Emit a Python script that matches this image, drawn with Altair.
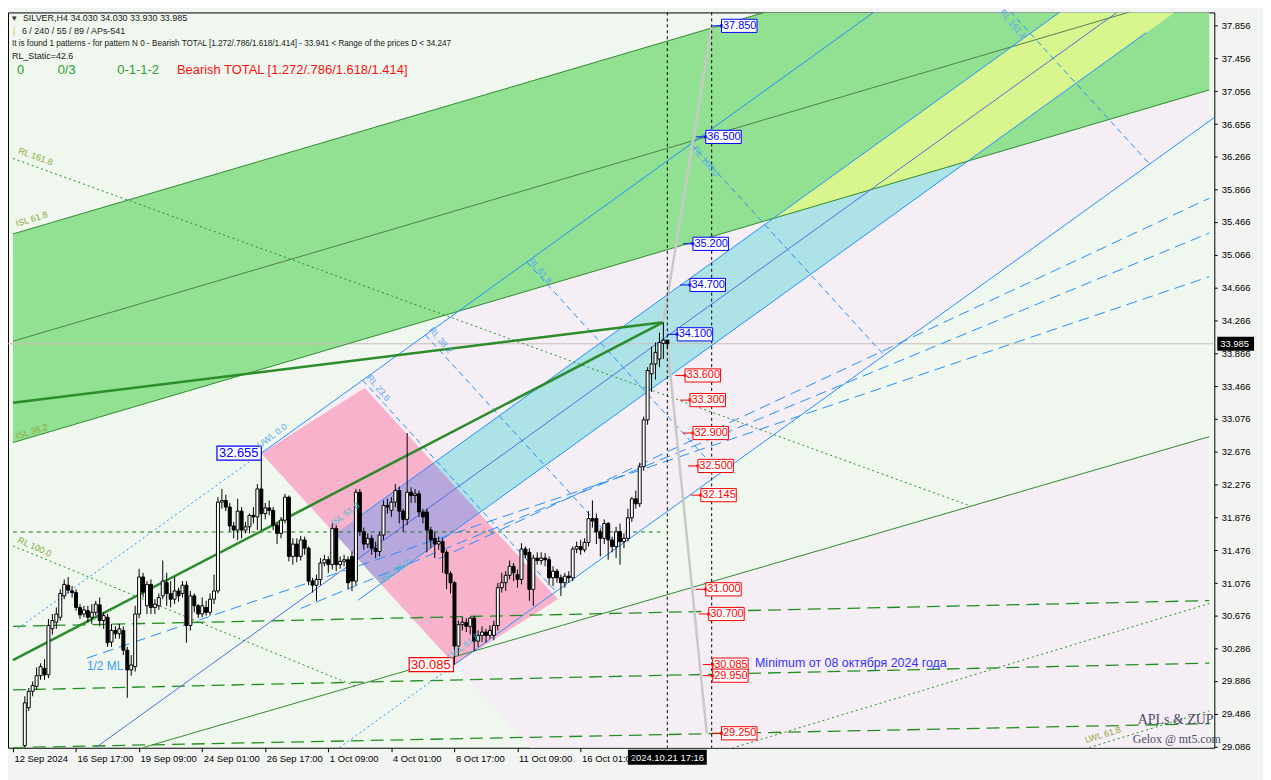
import altair as alt
import pandas as pd

# ---------------- candles (bar index, price) ----------------
bar_open = [
    29.10, 29.56, 29.76, 29.82, 29.95, 30.04, 29.96, 30.52, 30.60, 30.66,
    30.92, 31.05, 30.98, 30.96, 30.78, 30.70, 30.74, 30.66, 30.72, 30.81,
    30.62, 30.66, 30.36, 30.50, 30.46, 30.50, 30.26, 30.02, 30.06, 30.70,
    31.15, 30.80, 31.06, 30.78, 30.80, 30.92, 31.08, 30.95, 30.88, 30.98,
    30.95, 31.05, 30.56, 30.92, 30.80, 30.70, 30.78, 30.72, 30.88, 30.98,
    32.06, 32.08, 32.00, 31.77, 31.72, 31.95, 31.72, 31.76, 31.90, 31.88,
    32.22, 31.92, 31.99, 31.96, 31.78, 31.68, 31.84, 32.12, 31.40, 31.55,
    31.40, 31.60, 31.50, 31.10, 31.05, 31.12, 31.32, 31.36, 31.30, 31.74,
    31.30, 31.34, 31.36, 31.40, 31.10, 32.18, 31.70, 31.55, 31.62, 31.50,
    31.46, 31.66, 32.02, 31.96, 32.06, 32.20, 31.95, 31.85, 32.18, 32.14,
    32.16, 31.94, 31.94, 31.72, 31.62, 31.55, 31.58, 31.45, 31.19, 31.08,
    30.31, 30.57, 30.60, 30.55, 30.65, 30.37, 30.44, 30.48, 30.44, 30.44,
    30.56, 31.02, 31.08, 31.17, 31.28, 31.18, 31.12, 31.49, 31.45, 31.00,
    31.38, 31.35, 31.38, 31.36, 31.14, 31.22, 31.14, 31.08, 31.16, 31.14,
    31.49, 31.52, 31.48, 31.57, 31.86, 31.86, 31.70, 31.62, 31.80, 31.60,
    31.52, 31.70, 31.58, 31.62, 31.87, 32.10, 32.04, 32.49, 33.06, 33.62,
    33.74, 33.80, 33.99, 34.03]
bar_high = [
    29.70, 29.80, 29.88, 30.05, 30.10, 30.15, 30.64, 30.70, 30.78, 31.00,
    31.12, 31.15, 31.04, 31.00, 30.82, 30.80, 30.80, 30.82, 30.86, 30.90,
    30.72, 30.70, 30.58, 30.55, 30.58, 30.55, 30.30, 30.20, 30.80, 31.25,
    31.20, 31.10, 31.12, 30.88, 30.95, 31.35, 31.20, 31.10, 31.15, 31.02,
    31.10, 31.10, 30.98, 30.95, 30.82, 30.90, 30.86, 30.95, 31.18, 32.12,
    32.22, 32.15, 32.05, 31.82, 32.10, 32.00, 31.82, 31.92, 32.00, 32.28,
    32.655, 32.05, 32.08, 32.00, 31.80, 31.88, 32.16, 32.14, 31.62, 31.62,
    31.65, 31.64, 31.52, 31.14, 31.18, 31.38, 31.42, 31.40, 31.80, 31.78,
    31.40, 31.42, 31.40, 31.46, 32.22, 32.22, 31.75, 31.68, 31.66, 31.58,
    31.70, 32.08, 32.10, 32.12, 32.28, 32.25, 31.98, 32.90, 32.24, 32.22,
    32.20, 31.98, 31.98, 31.76, 31.70, 31.64, 31.62, 31.48, 31.22, 31.10,
    30.62, 30.66, 30.65, 30.66, 30.68, 30.50, 30.55, 30.52, 30.56, 30.62,
    31.08, 31.20, 31.22, 31.35, 31.32, 31.24, 31.56, 31.52, 31.50, 31.42,
    31.45, 31.45, 31.44, 31.40, 31.28, 31.25, 31.18, 31.20, 31.22, 31.52,
    31.58, 31.60, 31.62, 31.95, 32.08, 31.92, 31.74, 31.85, 31.82, 31.64,
    31.76, 31.80, 31.68, 31.98, 32.12, 32.20, 32.54, 33.10, 33.70, 33.95,
    34.00, 34.12, 34.247, 34.03]
bar_low = [
    29.08, 29.52, 29.70, 29.78, 29.90, 29.90, 29.92, 30.45, 30.52, 30.62,
    30.88, 30.95, 30.90, 30.74, 30.64, 30.66, 30.60, 30.58, 30.68, 30.55,
    30.52, 30.30, 30.30, 30.40, 30.40, 30.20, 29.68, 29.95, 30.00, 30.65,
    30.90, 30.70, 30.70, 30.70, 30.75, 30.88, 30.80, 30.78, 30.82, 30.85,
    30.90, 30.35, 30.50, 30.72, 30.65, 30.66, 30.68, 30.68, 30.82, 30.95,
    31.98, 31.95, 31.70, 31.62, 31.60, 31.62, 31.68, 31.68, 31.80, 31.72,
    31.72, 31.85, 31.90, 31.72, 31.55, 31.62, 31.80, 31.34, 31.30, 31.33,
    31.35, 31.42, 31.05, 30.96, 30.86, 31.05, 31.28, 31.20, 31.24, 31.22,
    31.25, 31.28, 31.00, 30.98, 31.05, 31.65, 31.48, 31.50, 31.42, 31.38,
    31.40, 31.60, 31.92, 31.88, 32.00, 31.80, 31.70, 31.78, 32.05, 32.05,
    31.88, 31.80, 31.45, 31.50, 31.38, 31.48, 31.20, 31.00, 30.95, 30.085,
    30.20, 30.50, 30.48, 30.45, 30.25, 30.30, 30.36, 30.35, 30.40, 30.38,
    30.50, 30.96, 30.98, 31.12, 31.10, 31.02, 31.06, 31.38, 30.86, 30.80,
    31.30, 31.30, 31.28, 31.05, 31.04, 31.08, 30.92, 31.02, 31.08, 31.10,
    31.44, 31.42, 31.45, 31.52, 31.75, 31.55, 31.40, 31.55, 31.36, 31.45,
    31.38, 31.30, 31.50, 31.58, 31.82, 31.98, 32.00, 32.44, 33.00, 33.40,
    33.55, 33.70, 33.80, 33.93]
bar_close = [
    29.62, 29.76, 29.83, 29.95, 30.06, 29.96, 30.56, 30.62, 30.70, 30.95,
    31.06, 30.99, 30.96, 30.78, 30.69, 30.75, 30.66, 30.72, 30.82, 30.62,
    30.68, 30.35, 30.50, 30.46, 30.52, 30.26, 30.02, 30.08, 30.70, 31.15,
    30.97, 31.06, 30.78, 30.82, 30.90, 31.10, 30.95, 30.88, 30.98, 30.92,
    31.05, 30.56, 30.92, 30.80, 30.70, 30.80, 30.72, 30.88, 30.98, 32.06,
    32.08, 32.00, 31.77, 31.72, 31.95, 31.72, 31.76, 31.90, 31.88, 32.22,
    31.92, 31.99, 31.96, 31.78, 31.68, 31.84, 32.12, 31.40, 31.55, 31.40,
    31.60, 31.50, 31.10, 31.05, 31.12, 31.32, 31.36, 31.30, 31.74, 31.30,
    31.34, 31.36, 31.08, 31.10, 32.18, 31.70, 31.55, 31.62, 31.50, 31.46,
    31.66, 32.02, 32.00, 32.06, 32.20, 31.95, 31.85, 32.18, 32.14, 32.16,
    31.94, 31.88, 31.72, 31.60, 31.55, 31.58, 31.45, 31.19, 31.08, 30.31,
    30.57, 30.60, 30.55, 30.65, 30.37, 30.44, 30.48, 30.44, 30.50, 30.56,
    31.02, 31.08, 31.17, 31.28, 31.20, 31.12, 31.49, 31.42, 31.00, 31.38,
    31.35, 31.38, 31.36, 31.14, 31.22, 31.14, 31.08, 31.16, 31.14, 31.49,
    31.52, 31.48, 31.57, 31.86, 31.83, 31.70, 31.62, 31.80, 31.60, 31.52,
    31.70, 31.58, 31.62, 31.87, 32.10, 32.04, 32.49, 33.06, 33.66, 33.74,
    33.88, 34.00, 34.03, 33.985]

# ---------------- axes ----------------
price_ticks = [37.856, 37.456, 37.056, 36.656, 36.266, 35.866, 35.466, 35.066,
               34.666, 34.266, 33.866, 33.466, 33.076, 32.676, 32.276, 31.876,
               31.476, 31.076, 30.676, 30.286, 29.886, 29.486, 29.086]
time_ticks = [-3, 13, 29, 45, 61, 77, 93, 109, 125, 141]
time_labels = ["12 Sep 2024", "16 Sep 17:00", "19 Sep 09:00", "24 Sep 01:00",
               "26 Sep 17:00", "1 Oct 09:00", "4 Oct 01:00", "8 Oct 17:00",
               "11 Oct 09:00", "16 Oct 01:00"]
U_MIN, U_MAX = -3, 300.5
P_MIN, P_MAX = 29.074, 38.013
current_price = 33.985
current_bar = 163
current_time = "2024.10.21 17:16"
zup_bar = 174.25

# ---------------- analysis lines (u1, p1, u2, p2) ----------------
green_edges = [(-3, 32.784, 300.5, 37.071), (-3, 35.320, 300.5, 39.607),
               (30, 29.076, 300.5, 32.856)]
green_median = [(-3, 34.016, 300.5, 38.304)]
green_thick = [(-3, 33.267, 162, 34.247), (-3, 30.139, 162, 34.247)]
green_dash = [(-3, 30.550, 300.5, 30.863), (-3, 29.777, 300.5, 30.103),
              (-3, 29.076, 300.5, 29.366)]
green_short = [(-3, 31.697, 161.25, 31.697)]
green_dot = [(-3, 36.238, 240, 32.011), (-3, 31.528, 83.75, 29.825),
             (178.25, 29.052, 300.5, 30.827), (270, 29.076, 300.5, 29.523)]
blue_solid = [(60, 32.655, 260, 39.555), (109, 30.085, 309, 36.985),
              (84.5, 31.873, 284.5, 38.773), (84.5, 30.867, 284.5, 37.767)]
blue_median = [(18, 29.076, 284.5, 38.270)]
blue_dot = [(-1.75, 30.525, 60, 32.655), (79.8, 29.076, 109, 30.085)]
blue_fan = [(15.75, 30.163, 300.5, 34.801), (70, 30.767, 300.5, 35.332),
            (105, 31.371, 300.5, 35.755)]
blue_rl = [(85.72, 33.542, 134.72, 30.972), (101.64, 34.092, 150.64, 31.522),
           (127.36, 34.979, 176.36, 32.409), (169, 36.416, 218, 33.846),
           (236.36, 38.740, 285.36, 36.170)]
zup_lines = [(162, 34.247, 174.25, 37.850), (163, 33.985, 173, 29.250)]

# fork half-planes
UWL = ((60, 32.655), (260, 39.555))
LWL = ((109, 30.085), (309, 36.985))
ISL618 = ((84.5, 31.873), (284.5, 38.773))
ISL382 = ((84.5, 30.867), (284.5, 37.767))
PIVOT = ((60, 32.655), (109, 30.085))
G_LO = ((-3, 32.784), (300.5, 37.071))
G_HI = ((-3, 35.320), (300.5, 39.607))
G_LWL = ((30, 29.076), (300.5, 32.856))
pink_box = [(60, 32.655), (86.25, 33.448), (135.25, 30.878), (109, 30.085)]

# ---------------- price labels ----------------
blue_boxes = [("37.850", 176.75, 37.850), ("36.500", 172.75, 36.500),
              ("35.200", 169.5, 35.200), ("34.700", 168.75, 34.700),
              ("34.100", 165.5, 34.100)]
red_boxes = [("33.600", 167.5, 33.600), ("33.300", 168.75, 33.300),
             ("32.900", 169.5, 32.900), ("32.500", 170.75, 32.500),
             ("32.145", 171.5, 32.145), ("31.000", 172.75, 31.000),
             ("30.700", 173.5, 30.700), ("30.085", 174.5, 30.085),
             ("29.950", 174.5, 29.950), ("29.250", 176.75, 29.250)]
big_boxes = [("32.655", 48.75, 32.655, "#0000ff"), ("30.085", 97.5, 30.085, "#ff0000")]

small_texts = [
    ("ISL 61.8", 1.75, 35.501, 343, "#8aa838"), ("ISL 38.2", 1.75, 32.917, 343, "#8aa838"),
    ("RL 161.8", 2.75, 36.262, 20, "#8aa838"), ("RL 100.0", 2.5, 31.516, 24, "#8aa838"),
    ("UWL 0.0", 62.75, 32.868, 324, "#5aaaf0"), ("RL 23.6", 89.75, 33.448, 50, "#5aaaf0"),
    ("RL 38.2", 105.5, 34.028, 50, "#5aaaf0"), ("RL 61.8", 130.75, 34.873, 50, "#5aaaf0"),
    ("RL 100.0", 172.75, 36.202, 50, "#5aaaf0"), ("RL 161.8", 250.75, 37.868, 50, "#5aaaf0"),
    ("ISL 61.8", 81.25, 31.914, 324, "#40c0d0"), ("ISL 38.2", 94, 31.226, 324, "#40c0d0"),
    ("LWL 61.8", 111.25, 30.308, 324, "#40c0d0"), ("LWL 61.8", 273.5, 29.233, 343, "#8aa838"),
]

# ---------------- helpers ----------------
xs_ = alt.Scale(domain=[U_MIN, U_MAX], nice=False, zero=False)
ys_ = alt.Scale(domain=[P_MIN, P_MAX], nice=False, zero=False)
label_expr = " : ".join(f"datum.value == {v} ? '{t}'" for v, t in zip(time_ticks, time_labels)) + " : ''"
x_axis = alt.Axis(orient="bottom", values=time_ticks, labelExpr=label_expr, title=None, grid=False,
                  domain=False, tickSize=4, tickColor="black", labelAlign="left", labelBaseline="top",
                  labelPadding=2, labelOffset=1, labelFlush=False, labelOverlap=False,
                  labelFont="Liberation Sans", labelFontSize=9.5, labelColor="black", zindex=1)
y_axis = alt.Axis(orient="right", values=price_ticks, format=".3f", title=None, grid=False,
                  domain=False, tickSize=3, tickColor="black", labelPadding=4, labelFlush=False,
                  labelOverlap=False, labelFont="Liberation Sans", labelFontSize=9.5,
                  labelColor="black", zindex=1)


def X(f):
    return alt.X(f, type="quantitative", scale=xs_, axis=x_axis)


def Y(f):
    return alt.Y(f, type="quantitative", scale=ys_, axis=y_axis)


def clip_half(poly, line, inside):
    (ax, ay), (bx, by) = line

    def side(p):
        return (bx - ax) * (p[1] - ay) - (by - ay) * (p[0] - ax)
    s_in = 1 if side(inside) > 0 else -1
    out = []
    n = len(poly)
    for i in range(n):
        cur, prev = poly[i], poly[i - 1]
        sc, sp = side(cur) * s_in, side(prev) * s_in
        if sc >= 0:
            if sp < 0:
                t = sp / (sp - sc)
                out.append((prev[0] + t * (cur[0] - prev[0]), prev[1] + t * (cur[1] - prev[1])))
            out.append(cur)
        elif sp >= 0:
            t = sp / (sp - sc)
            out.append((prev[0] + t * (cur[0] - prev[0]), prev[1] + t * (cur[1] - prev[1])))
    return out


def slabs(poly):
    xs = sorted(set(round(v[0], 6) for v in poly))
    rows = []
    for x in xs:
        ys = []
        for i in range(len(poly)):
            (x1, y1), (x2, y2) = poly[i - 1], poly[i]
            if min(x1, x2) - 1e-6 <= x <= max(x1, x2) + 1e-6:
                if abs(x2 - x1) < 1e-9:
                    ys += [y1, y2]
                else:
                    t = (x - x1) / (x2 - x1)
                    ys.append(y1 + t * (y2 - y1))
        rows.append((x, min(ys), max(ys)))
    return rows


def area_layer(poly, color):
    df = pd.DataFrame(slabs(poly), columns=["u", "p", "p2"])
    return alt.Chart(df).mark_area(color=color, clip=True, opacity=1).encode(
        x=X("u"), y=Y("p"), y2=alt.Y2("p2"))


def rule_layer(segs, color, width, dash=None):
    df = pd.DataFrame(segs, columns=["u", "p", "u2", "p2"])
    kw = dict(color=color, strokeWidth=width, clip=True)
    if dash:
        kw["strokeDash"] = dash
    return alt.Chart(df).mark_rule(**kw).encode(x=X("u"), y=Y("p"), x2=alt.X2("u2"), y2=alt.Y2("p2"))


def ann(t, x, y, color="#202020", size=9, font="Liberation Sans", align="left"):
    return alt.Chart(pd.DataFrame({"t": [t]})).mark_text(
        align=align, baseline="middle", color=color, fontSize=size, font=font).encode(
        x=alt.value(x), y=alt.value(y), text="t:N")


rect = [(U_MIN, P_MIN), (U_MAX, P_MIN), (U_MAX, P_MAX), (U_MIN, P_MAX)]
inside_fork = (150, 33.0)
fork_region = clip_half(clip_half(clip_half(rect, UWL, inside_fork), LWL, inside_fork), PIVOT, inside_fork)
cyan_region = clip_half(clip_half(clip_half(rect, ISL618, (150, 33.63)), ISL382, (150, 33.63)), PIVOT, (150, 33.63))
green_region = clip_half(clip_half(rect, G_LO, (100, 35.5)), G_HI, (100, 35.5))
yellow_region = clip_half(clip_half(cyan_region, G_LO, (100, 35.5)), G_HI, (100, 35.5))
purple_region = clip_half(clip_half(pink_box, ISL618, (150, 33.63)), ISL382, (150, 33.63))
bottom_region = clip_half(clip_half(rect, G_LWL, (250, 29.2)), PIVOT, (250, 29.2))

layers = [
    area_layer(bottom_region, "#f6eef5"),
    area_layer(fork_region, "#f6eef5"),
    area_layer(green_region, "#92e092"),
    area_layer(cyan_region, "#ade3e7"),
    area_layer(yellow_region, "#d9f68e"),
    area_layer(pink_box, "#f9b2cc"),
    area_layer(purple_region, "#b8a7dc"),
]

# current price line
layers.append(alt.Chart(pd.DataFrame({"p": [current_price]})).mark_rule(
    color="#cbbcb8", strokeWidth=1).encode(y=Y("p")))

layers += [
    rule_layer(green_edges, "#2e8b2e", 1),
    rule_layer(green_median, "#4f7f4f", 1),
    rule_layer(green_dash, "#1f8f1f", 1.3, [13, 7]),
    rule_layer(green_short, "#1f7a1f", 1, [4, 4]),
    rule_layer(green_dot, "#1f8f1f", 1, [2, 3]),
    rule_layer(blue_solid, "#1e90ff", 1),
    rule_layer(blue_median, "#4a6fe0", 1),
    rule_layer(blue_dot, "#1e90ff", 1, [2, 3]),
    rule_layer(blue_fan, "#1e90ff", 1, [11, 6]),
    rule_layer(blue_rl, "#1e90ff", 1, [6, 4]),
    rule_layer(green_thick, "#2c8c2c", 2.6),
    rule_layer(zup_lines, "#c8c8c8", 2.5),
]

# vertical markers
layers.append(alt.Chart(pd.DataFrame({"u": [current_bar, zup_bar]})).mark_rule(
    color="black", strokeDash=[3, 3], strokeWidth=1).encode(x=X("u")))

# candles
cdf = pd.DataFrame({"u": list(range(len(bar_open))), "o": bar_open, "h": bar_high,
                    "l": bar_low, "c": bar_close})
cdf["lo"] = cdf[["o", "c"]].min(axis=1)
cdf["hi"] = cdf[["o", "c"]].max(axis=1)
cdf["fc"] = ["white" if c >= o else "black" for o, c in zip(cdf["o"], cdf["c"])]
layers.append(alt.Chart(cdf).mark_rule(color="black", strokeWidth=1).encode(
    x=X("u"), y=Y("l"), y2=alt.Y2("h")))
layers.append(alt.Chart(cdf).mark_bar(size=3, stroke="black", strokeWidth=1).encode(
    x=X("u"), y=Y("lo"), y2=alt.Y2("hi"), fill=alt.Fill("fc:N", scale=None)))

# price label boxes
BOX_W, BOX_H = 9.0, 0.16
rows = [(t, u, p, "#0000ff") for t, u, p in blue_boxes] + [(t, u, p, "#ff0000") for t, u, p in red_boxes]
bdf = pd.DataFrame(rows, columns=["t", "u", "pc", "col"])
bdf["u2"] = bdf["u"] + BOX_W
bdf["p"] = bdf["pc"] - BOX_H / 2
bdf["p2"] = bdf["pc"] + BOX_H / 2
bdf["uc"] = bdf["u"] - 2.5
layers.append(alt.Chart(bdf).mark_rule(strokeWidth=1).encode(
    x=X("uc"), x2=alt.X2("u"), y=Y("pc"), stroke=alt.Stroke("col:N", scale=None)))
layers.append(alt.Chart(bdf).mark_rect(fill="white", strokeWidth=1).encode(
    x=X("u"), x2=alt.X2("u2"), y=Y("p"), y2=alt.Y2("p2"), stroke=alt.Stroke("col:N", scale=None)))
layers.append(alt.Chart(bdf).mark_point(shape="square", size=10, filled=True).encode(
    x=X("u"), y=Y("pc"), color=alt.Color("col:N", scale=None)))
layers.append(alt.Chart(bdf).mark_text(align="left", baseline="middle", dx=1.5, fontSize=11,
                                       font="Liberation Sans").encode(
    x=X("u"), y=Y("pc"), text="t:N", color=alt.Color("col:N", scale=None)))

BIG_W, BIG_H = 11.25, 0.17
gdf = pd.DataFrame(big_boxes, columns=["t", "u", "pc", "col"])
gdf["u2"] = gdf["u"] + BIG_W
gdf["p"] = gdf["pc"] - BIG_H / 2
gdf["p2"] = gdf["pc"] + BIG_H / 2
layers.append(alt.Chart(gdf).mark_rect(fill="white", strokeWidth=1.2).encode(
    x=X("u"), x2=alt.X2("u2"), y=Y("p"), y2=alt.Y2("p2"), stroke=alt.Stroke("col:N", scale=None)))
layers.append(alt.Chart(gdf).mark_text(align="left", baseline="middle", dx=2, fontSize=13,
                                       font="Liberation Sans").encode(
    x=X("u"), y=Y("pc"), text="t:N", color=alt.Color("col:N", scale=None)))

# small rotated level names
sdf = pd.DataFrame(small_texts, columns=["t", "u", "p", "a", "col"])
layers.append(alt.Chart(sdf).mark_text(align="center", baseline="middle", fontSize=9,
                                       font="Liberation Sans").encode(
    x=X("u"), y=Y("p"), text="t:N", angle=alt.Angle("a:Q", scale=None),
    color=alt.Color("col:N", scale=None)))

# other in-plot texts
misc = pd.DataFrame([("1/2 ML", 15.75, 30.067, "#3d9bf0", 12),
                     ("Minimum от 08 октября 2024 года", 185.25, 30.103, "#3333ff", 12.5)],
                    columns=["t", "u", "p", "col", "fs"])
for _, r in misc.iterrows():
    layers.append(alt.Chart(pd.DataFrame([r])).mark_text(
        align="left", baseline="middle", fontSize=r["fs"], font="Liberation Sans").encode(
        x=X("u"), y=Y("p"), text="t:N", color=alt.Color("col:N", scale=None)))

# time marker box on x-axis
tdf = pd.DataFrame({"u": [current_bar - 10], "u2": [current_bar + 10], "uc": [current_bar],
                    "t": [current_time]})
layers.append(alt.Chart(tdf).mark_rect(color="black").encode(
    x=X("u"), x2=alt.X2("u2"), y=alt.value(742), y2=alt.value(757)))
layers.append(alt.Chart(tdf).mark_text(color="white", fontSize=9.5, font="Liberation Sans",
                                       align="center", baseline="middle").encode(
    x=X("uc"), y=alt.value(750), text="t:N"))

# current price box on y-axis
pdf_ = pd.DataFrame({"p": [current_price - 0.085], "p2": [current_price + 0.085],
                     "pc": [current_price], "t": [f"{current_price:.3f}"]})
layers.append(alt.Chart(pdf_).mark_rect(color="black").encode(
    x=alt.value(1217), x2=alt.value(1254), y=Y("p"), y2=alt.Y2("p2")))
layers.append(alt.Chart(pdf_).mark_text(color="white", fontSize=9.5, font="Liberation Sans",
                                        align="left", baseline="middle").encode(
    x=alt.value(1220), y=Y("pc"), text="t:N"))

# header texts
layers += [
    ann("▾", 4, 6, "#303030", 9, "DejaVu Sans"),
    ann("SILVER,H4  34.030 34.030 33.930 33.985", 15, 6),
    ann("|", 5, 19, "#d8c830", 9),
    ann("6 / 240 / 55 / 89 / APs-541", 14, 19),
    ann("It is found 1 patterns  -  for pattern N 0 - Bearish TOTAL [1.272/.786/1.618/1.414] - 33.941 < Range of the prices D < 34.247", 4, 32, "#202020", 8.2),
    ann("RL_Static=42.6", 4, 44),
    ann("0", 9, 58, "#2ca02c", 13),
    ann("0/3", 50, 58, "#2ca02c", 13),
    ann("0-1-1-2", 110, 58, "#2ca02c", 13),
    ann("Bearish TOTAL [1.272/.786/1.618/1.414]", 170, 58, "#ff1010", 13),
    ann("APLs & ZUP", 1137, 712, "#4a4a68", 14, "Liberation Serif"),
    ann("Gelox @ mt5.com", 1132, 731, "#4a4a68", 12, "Liberation Serif"),
]

chart = alt.layer(*layers).properties(
    width=1214, height=740,
    padding={"left": 0, "top": 2, "right": 49, "bottom": 30},
    autosize=alt.AutoSizeParams(type="none"),
    background="#f1f4f1",
).configure_view(fill="#eff7ef", stroke="black", strokeWidth=1)

chart.save("out.html", embed_options={"renderer": "svg", "actions": False})
